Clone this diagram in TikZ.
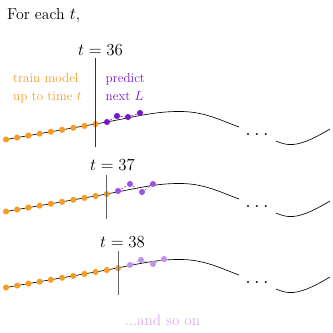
\documentclass[tikz,border=0pt]{standalone}
\usepackage{amsmath}
\usepackage{tikz}
\usetikzlibrary{positioning}
\definecolor{trainorange}{RGB}{247,155,35}
\definecolor{predA}{RGB}{118,22,205}
\definecolor{predB}{RGB}{158,82,225}
\definecolor{predC}{RGB}{192,148,232}
\definecolor{sooncol}{RGB}{218,170,240}

\begin{document}
\begin{tikzpicture}[
    x=0.03cm, y=-0.03cm,
    trainpt/.style={circle, fill=trainorange, inner sep=0pt, minimum size=5.2pt},
    predpt/.style={circle, inner sep=0pt, minimum size=5.2pt},
    series/.style={line width=0.55pt, black},
    cutline/.style={line width=0.7pt, black!60},
    predlink/.style={dashed, dash pattern=on 2pt off 1.5pt, line width=0.5pt},
    steplabel/.style={anchor=base, font=\fontsize{13.5}{16}\selectfont},
    sidetext/.style={anchor=north west, align=left, inner sep=0pt, font=\fontsize{11.2}{15.4}\selectfont},
    gap/.style={inner sep=0pt, font=\LARGE},
]
\useasboundingbox (0,0) rectangle (333,333);

\def\rowA{0}
\def\rowB{72}
\def\rowC{148}

\node[anchor=base west, inner sep=0pt, font=\fontsize{13.5}{16}\selectfont] (title) at (7,19) {For each $t$,};

% === t = 36 ===
\begin{scope}[shift={(0,\rowA)}]
\draw[series] (6,139.5) -- (100,123.2) .. controls (135,117) and (155,111) .. (182,111.5)
    .. controls (205,112) and (220,120) .. (239,127);
\draw[series] (276,141) .. controls (283,144) and (288,145) .. (293,144.5)
    .. controls (305,143.5) and (318,136) .. (330,129);
\node[gap] (adots) at (257,135) {$\ldots$};
\foreach \i in {0,...,8}
    \node[trainpt] (a\i) at ({6+11.2*\i},{139.5-1.94*\i}) {};
\foreach \x/\y [count=\k] in {107/122,117/116,128/117,140/113}
    \node[predpt, fill=predA] (ap\k) at (\x,\y) {};
\draw[predlink, predA] (ap1) -- (ap2) -- (ap3) -- (ap4);
\coordinate (atop) at (95.6,58);
\coordinate (abot) at (95.6,147);
\draw[cutline, black!80] (atop) -- (abot);
\node[steplabel] (alabel) at (100.6,55) {$t = 36$};
\node[sidetext, text=trainorange] (trainlbl) at (13,73) {train model\\up to time $t$};
\node[sidetext, text=predA] (predlbl) at (105.5,73) {predict\\next $L$};
\end{scope}

% === t = 37 ===
\begin{scope}[shift={(0,\rowB)}]
\draw[series] (6,139.5) -- (100,123.2) .. controls (135,117) and (155,111) .. (182,111.5)
    .. controls (205,112) and (220,120) .. (239,127);
\draw[series] (276,141) .. controls (283,144) and (288,145) .. (293,144.5)
    .. controls (305,143.5) and (318,136) .. (330,129);
\node[gap] (bdots) at (257,135) {$\ldots$};
\foreach \i in {0,...,9}
    \node[trainpt] (b\i) at ({6+11.2*\i},{139.5-1.94*\i}) {};
\foreach \x/\y [count=\k] in {118/119,130/112,142/120,153/112}
    \node[predpt, fill=predB] (bp\k) at (\x,\y) {};
\draw[predlink, predB] (bp1) -- (bp2) -- (bp3) -- (bp4);
\coordinate (btop) at (106.8,103);
\coordinate (bbot) at (106.8,147);
\draw[cutline] (btop) -- (bbot);
\node[steplabel] (blabel) at (112.5,98) {$t = 37$};
\end{scope}

% === t = 38 ===
\begin{scope}[shift={(0,\rowC)}]
\draw[series] (6,139.5) -- (100,123.2) .. controls (135,117) and (155,111) .. (182,111.5)
    .. controls (205,112) and (220,120) .. (239,127);
\draw[series] (276,141) .. controls (283,144) and (288,145) .. (293,144.5)
    .. controls (305,143.5) and (318,136) .. (330,129);
\node[gap] (cdots) at (257,135) {$\ldots$};
\foreach \i in {0,...,10}
    \node[trainpt] (c\i) at ({6+11.2*\i},{139.5-1.94*\i}) {};
\foreach \x/\y [count=\k] in {130/117,141/112,153/116,164/111}
    \node[predpt, fill=predC] (cp\k) at (\x,\y) {};
\draw[predlink, predC] (cp1) -- (cp2) -- (cp3) -- (cp4);
\coordinate (ctop) at (118,103);
\coordinate (cbot) at (118,147);
\draw[cutline] (ctop) -- (cbot);
\node[steplabel] (clabel) at (122.5,99) {$t = 38$};
\end{scope}

\node[anchor=base, font=\fontsize{13}{15}\selectfont, text=sooncol] (soon) at (162.5,325) {...and so on};

\end{tikzpicture}
\end{document}
